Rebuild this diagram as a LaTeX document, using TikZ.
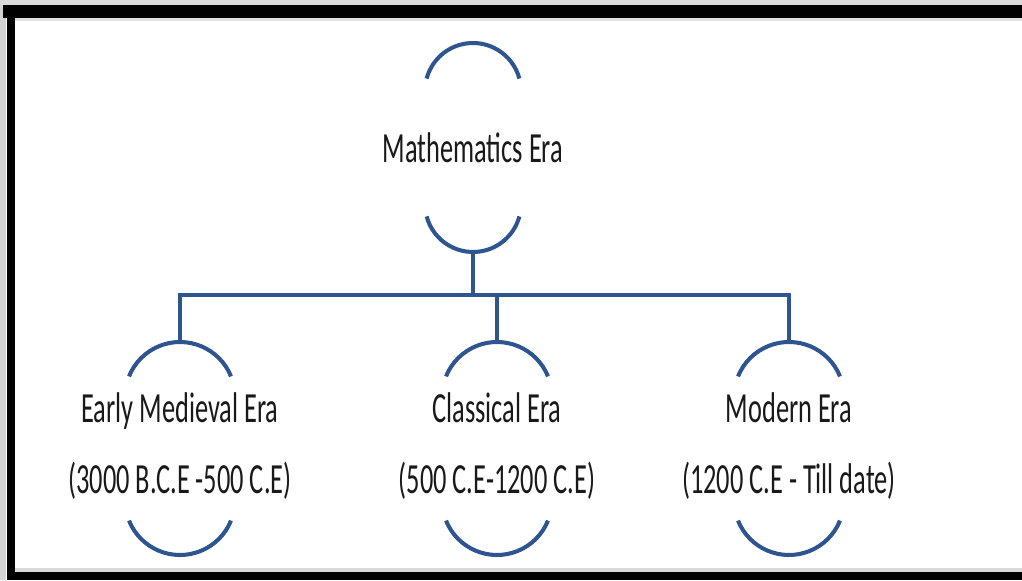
\documentclass[tikz,border=0pt]{standalone}
\usepackage{fontspec}
\setmainfont{Carlito}
\usepackage{xcolor}
\definecolor{EraBlue}{RGB}{47,85,145}
\usetikzlibrary{positioning}

\begin{document}
\begin{tikzpicture}[
era/.style={align=center, text=black!90, font=\fontsize{15}{25}\selectfont, yscale=1.63, inner sep=0pt},
rim/.style={EraBlue, line width=2.3pt},
link/.style={EraBlue, line width=2.8pt}
]
\useasboundingbox (0,0) rectangle (20.44,11.6);
% screenshot frame
\fill[gray!30] (0,11.5) rectangle (20.44,11.6);
\fill[gray!35] (0,0) rectangle (0.12,11.5);
\fill[black] (0.06,11.24) rectangle (20.44,11.5);
\fill[black] (0.14,0) rectangle (0.3,11.5);
\fill[gray!25] (0.3,11.18) rectangle (20.44,11.24);
\fill[gray!30] (0.3,0.16) rectangle (20.44,0.24);
\fill[black] (0.14,0) rectangle (20.44,0.16);

\node[era] (math) at (9.46,8.64) {Mathematics Era};
\node[era] (early) at (3.6,2.68) {Early Medieval Era\\(3000 B.C.E -500 C.E)};
\node[era] (classical) at (9.94,2.68) {Classical Era\\(500 C.E-1200 C.E)};
\node[era] (modern) at (15.78,2.68) {Modern Era\\(1200 C.E - Till date)};

% arcs round the eras
\draw[rim] ([shift={(15:0.96)}]math.center) ++(0,1.14) arc[start angle=15, end angle=165, radius=0.96];
\draw[rim] ([shift={(195:0.96)}]math.center) ++(0,-1.12) arc[start angle=195, end angle=345, radius=0.96];
\foreach \n in {early,classical,modern}{
  \draw[rim] ([shift={(22:1.1)}]\n.center) ++(0,0.98) arc[start angle=22, end angle=158, radius=1.1];
  \draw[rim] ([shift={(202:1.1)}]\n.center) ++(0,-1.08) arc[start angle=202, end angle=338, radius=1.1];
  \coordinate (\n-t) at ([yshift=2.08cm]\n.center);
}
\coordinate (math-b) at ([yshift=-2.08cm]math.center);
\coordinate (bus) at ([yshift=-0.86cm]math-b);

% tree lines
\draw[link] (math-b) -- (bus);
\draw[link] (early-t) |- (modern-t |- bus) -- (modern-t);
\draw[link] (classical-t) -- (classical-t |- bus);
\end{tikzpicture}
\end{document}
